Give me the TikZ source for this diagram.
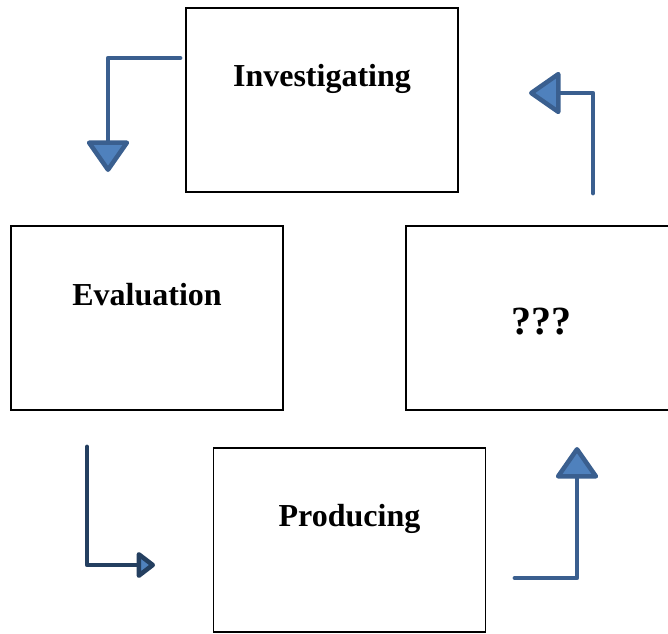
\documentclass[tikz,border=0pt]{standalone}
\usepackage{fontspec}
\setmainfont{Liberation Serif}
\usetikzlibrary{arrows.meta}
\definecolor{pfeil}{RGB}{58,95,143}
\definecolor{pfeildunkel}{RGB}{36,63,96}
\definecolor{spitze}{RGB}{79,129,189}
\tikzset{
	kasten/.style={draw=black, line width=1.1pt, minimum width=204pt, minimum height=138pt, inner sep=0pt},
	titel/.style={font=\bfseries\fontsize{24}{28}\selectfont, anchor=base},
	pfeilweg/.style={draw=pfeil, line width=3.6pt, line cap=round, line join=round},
	spitzegross/.style={-{Triangle[length=25pt, width=34pt, fill=spitze, line width=3.4pt, round]}},
	spitzeklein/.style={-{Triangle[length=15pt, width=22pt, fill=spitze, line width=3.4pt, round]}}
}
\begin{document}
\begin{tikzpicture}[x=0.75pt, y=-0.75pt]
		%Rahmen
		\useasboundingbox (0,0) rectangle (668,633);
		
		%Kaesten
		\node[kasten] (inv) at (322,100) {};
		\node[kasten] (eva) at (147,318) {};
		\node[kasten] (fra) at (542,318) {};
		\node[kasten] (pro) at (349.5,540) {};
		
		%Beschriftung
		\node[titel] (invtext) at (322,86) {Investigating};
		\node[titel] (evatext) at (147,305) {Evaluation};
		\node[titel, font=\bfseries\fontsize{30}{34}\selectfont] (fratext) at (541,334) {???};
		\node[titel] (protext) at (349.5,526) {Producing};
		
		%Endpunkte
		\coordinate (a1) at (180,58);
		\coordinate (a2) at (108,172);
		\coordinate (b1) at (593,193);
		\coordinate (b2) at (529,93);
		\coordinate (c1) at (87,447);
		\coordinate (c2) at (155,565);
		\coordinate (d1) at (515,578);
		\coordinate (d2) at (577,447);
		
		%Pfeile
		\draw[pfeilweg, spitzegross] (a1) -| (a2);
		\draw[pfeilweg, spitzegross] (b1) |- (b2);
		\draw[pfeilweg, draw=pfeildunkel, spitzeklein] (c1) |- (c2);
		\draw[pfeilweg, spitzegross] (d1) -| (d2);
\end{tikzpicture}
\end{document}
